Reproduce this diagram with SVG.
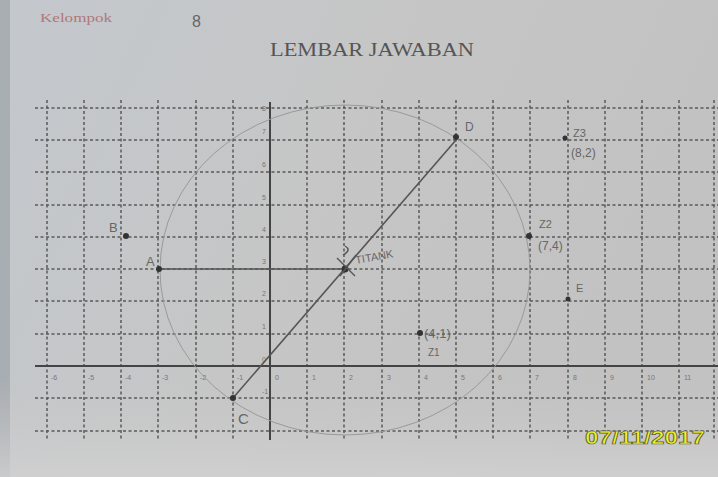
<svg xmlns="http://www.w3.org/2000/svg" width="718" height="477" viewBox="0 0 718 477">
<defs>
<linearGradient id="bg" x1="0" y1="0" x2="1" y2="0.3">
<stop offset="0" stop-color="#c3c8cd"/>
<stop offset="0.5" stop-color="#c6c6c6"/>
<stop offset="1" stop-color="#c2c2c2"/>
</linearGradient>
<linearGradient id="bot" x1="0" y1="0" x2="0" y2="1">
<stop offset="0" stop-color="#c8c8c8" stop-opacity="0"/>
<stop offset="1" stop-color="#d2d2d2" stop-opacity="0.8"/>
</linearGradient>
<style>
.g{stroke:#5a5a5a;stroke-width:1.5;stroke-dasharray:3 2.5;fill:none}
.ax{stroke:#444;stroke-width:2;fill:none}
.seg{stroke:#555;stroke-width:1.6;fill:none}
.t{font-family:"Liberation Sans",Arial,sans-serif;font-size:7px;fill:#777}
.h{font-family:"Liberation Sans",Arial,sans-serif;fill:#666}
.dot{fill:#333}
</style>
</defs>
<rect width="718" height="477" fill="url(#bg)"/>
<rect x="0" y="0" width="10" height="477" fill="#a9aeb3"/>
<rect x="0" y="380" width="718" height="97" fill="url(#bot)"/>

<text x="40" y="22" font-family="Liberation Serif,serif" font-size="12" fill="#b07878" textLength="72" lengthAdjust="spacingAndGlyphs">Kelompok</text>
<text x="192" y="27" class="h" font-size="16">8</text>
<text x="372" y="56" text-anchor="middle" font-family="Liberation Serif,serif" font-size="19" fill="#555" textLength="204" lengthAdjust="spacingAndGlyphs">LEMBAR JAWABAN</text>

<g id="grid">
<path class="g" d="M47 100V440M84 100V440M121 100V440M158 100V440M196 100V440M233 100V440M307 100V440M344 100V440M382 100V440M419 100V440M456 100V440M493 100V440M530 100V440M568 100V440M605 100V440M642 100V440M679 100V440M714 100V440"/>
<path class="g" d="M35 108H718M35 140H718M35 172H718M35 205H718M35 237H718M35 269H718M35 301H718M35 334H718M35 398H718M35 431H718"/>
<path class="ax" d="M35 366H718M270 102V440"/>
</g>

<g id="ticks">
<text class="t" x="51" y="380">-6</text>
<text class="t" x="88" y="380">-5</text>
<text class="t" x="125" y="380">-4</text>
<text class="t" x="162" y="380">-3</text>
<text class="t" x="200" y="380">-2</text>
<text class="t" x="237" y="380">-1</text>
<text class="t" x="275" y="380">0</text>
<text class="t" x="312" y="380">1</text>
<text class="t" x="349" y="380">2</text>
<text class="t" x="387" y="380">3</text>
<text class="t" x="424" y="380">4</text>
<text class="t" x="461" y="380">5</text>
<text class="t" x="498" y="380">6</text>
<text class="t" x="535" y="380">7</text>
<text class="t" x="573" y="380">8</text>
<text class="t" x="610" y="380">9</text>
<text class="t" x="647" y="380">10</text>
<text class="t" x="684" y="380">11</text>
<text class="t" x="262" y="111">8</text>
<text class="t" x="262" y="134">7</text>
<text class="t" x="262" y="167">6</text>
<text class="t" x="262" y="200">5</text>
<text class="t" x="262" y="232">4</text>
<text class="t" x="262" y="264">3</text>
<text class="t" x="262" y="296">2</text>
<text class="t" x="262" y="329">1</text>
<text class="t" x="262" y="362">0</text>
<text class="t" x="262" y="394">-1</text>
</g>

<g id="circle">
<ellipse cx="345" cy="270" rx="185" ry="165" fill="none" stroke="#9a9a9a" stroke-width="1"/>
</g>

<g id="connectors">
<path class="seg" d="M159 269H345"/>
<path class="seg" d="M233 398L456 140"/>
</g>

<g id="A"><circle class="dot" cx="159" cy="269" r="3"/><text class="h" x="146" y="266" font-size="13">A</text></g>
<g id="B"><circle class="dot" cx="126" cy="236" r="3"/><text class="h" x="109" y="232" font-size="13">B</text></g>
<g id="C"><circle class="dot" cx="233" cy="398" r="3"/><text class="h" x="238" y="424" font-size="15">C</text></g>
<g id="D"><circle class="dot" cx="456" cy="137" r="3"/><text class="h" x="465" y="131" font-size="12">D</text></g>
<g id="E"><circle class="dot" cx="568" cy="299" r="2.5"/><text class="h" x="576" y="292" font-size="11">E</text></g>
<g id="center">
<circle class="dot" cx="345" cy="269" r="3.5"/>
<path d="M337 258L355 276M340 276L356 255M345 246Q352 250 343 255" stroke="#555" stroke-width="1.4" fill="none"/>
<text class="h" x="356" y="264" font-size="11" transform="rotate(-10 356 264)">TITANK</text>
</g>
<g id="Z1"><circle class="dot" cx="420" cy="333" r="3"/><text class="h" x="424" y="338" font-size="13">(4,1)</text><text class="h" x="428" y="356" font-size="10">Z1</text></g>
<g id="Z2"><circle class="dot" cx="529" cy="236" r="3"/><text class="h" x="539" y="228" font-size="11">Z2</text><text class="h" x="538" y="250" font-size="12">(7,4)</text></g>
<g id="Z3"><circle class="dot" cx="565" cy="138" r="2.5"/><text class="h" x="573" y="137" font-size="11">Z3</text><text class="h" x="571" y="157" font-size="12">(8,2)</text></g>

<text x="585" y="444" font-family="Liberation Sans,Arial,sans-serif" font-weight="bold" font-size="18" fill="#eeee30" stroke="#5a5a2a" stroke-width="0.7" textLength="120" lengthAdjust="spacingAndGlyphs">07/11/2017</text>
</svg>
